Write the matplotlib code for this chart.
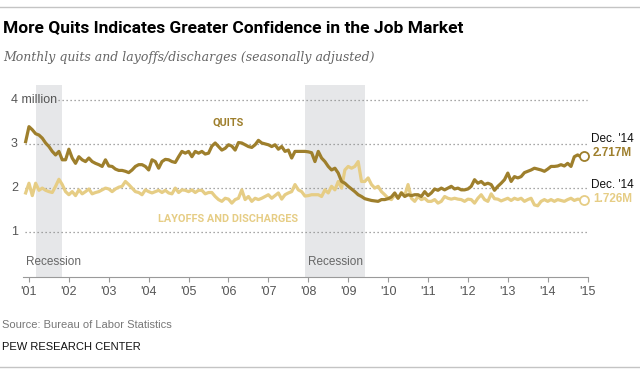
import numpy as np
import matplotlib
matplotlib.use("Agg")
import matplotlib.pyplot as plt
import matplotlib.transforms as mtransforms
from matplotlib.lines import Line2D

# monthly values, Dec 2000 .. Dec 2014, millions
quits = [3.05, 3.39, 3.32, 3.23, 3.20, 3.13, 3.02, 2.94, 2.83, 2.75,
         2.83, 2.64, 2.64, 2.88, 2.68, 2.56, 2.71, 2.64, 2.60, 2.68,
         2.60, 2.56, 2.53, 2.49, 2.64, 2.50, 2.49, 2.43, 2.40, 2.40,
         2.38, 2.35, 2.41, 2.49, 2.53, 2.53, 2.49, 2.41, 2.64, 2.60,
         2.45, 2.60, 2.65, 2.64, 2.60, 2.58, 2.71, 2.83, 2.79, 2.83,
         2.71, 2.83, 2.79, 2.83, 2.77, 2.79, 2.95, 3.02, 2.94, 2.86,
         2.90, 2.98, 2.95, 2.86, 3.03, 3.02, 2.98, 2.94, 2.92, 2.98,
         3.08, 3.02, 3.00, 2.98, 2.94, 2.98, 2.88, 2.94, 2.83, 2.86,
         2.68, 2.83, 2.83, 2.83, 2.83, 2.82, 2.80, 2.60, 2.83, 2.68,
         2.60, 2.49, 2.41, 2.45, 2.34, 2.15, 2.11, 2.04, 1.98, 1.92,
         1.85, 1.81, 1.76, 1.74, 1.72, 1.71, 1.70, 1.74, 1.74, 1.76,
         1.80, 1.89, 1.77, 1.89, 1.81, 1.85, 1.83, 1.85, 1.85, 1.81,
         1.92, 1.83, 1.89, 1.98, 1.95, 2.00, 1.96, 2.00, 2.04, 1.98,
         2.00, 1.96, 1.96, 1.98, 2.04, 2.19, 2.11, 2.15, 2.08, 2.11,
         2.08, 1.95, 2.04, 2.11, 2.19, 2.34, 2.15, 2.26, 2.23, 2.26,
         2.35, 2.38, 2.41, 2.45, 2.43, 2.41, 2.38, 2.43, 2.49, 2.49,
         2.50, 2.53, 2.50, 2.56, 2.49, 2.71, 2.75, 2.71, 2.717]

layoffs = [1.89, 2.11, 1.83, 2.11, 1.95, 2.00, 1.95, 1.92, 1.90, 2.04,
           2.20, 2.08, 1.92, 1.85, 1.92, 1.83, 1.96, 1.87, 1.92, 1.98,
           1.87, 1.90, 1.92, 1.96, 2.00, 1.98, 1.92, 1.98, 2.02, 2.04,
           2.15, 2.08, 2.00, 1.92, 1.90, 1.85, 1.96, 1.92, 1.89, 1.92,
           1.95, 1.90, 1.95, 1.89, 1.87, 2.00, 1.90, 1.96, 1.95, 1.92,
           1.96, 1.90, 1.95, 1.95, 1.87, 1.90, 1.90, 1.81, 1.74, 1.70,
           1.77, 1.75, 1.66, 1.74, 1.77, 1.96, 1.74, 1.81, 1.70, 1.77,
           1.74, 1.77, 1.81, 1.85, 1.77, 1.83, 1.89, 1.75, 1.85, 1.89,
           1.92, 2.08, 1.96, 1.92, 1.82, 1.83, 1.85, 1.85, 1.85, 1.81,
           1.96, 1.89, 2.04, 1.96, 2.15, 2.00, 2.41, 2.49, 2.45, 2.49,
           2.60, 2.15, 2.15, 2.23, 2.08, 2.00, 2.04, 1.92, 1.85, 1.77,
           1.74, 1.85, 1.77, 1.90, 1.83, 2.08, 1.77, 1.70, 1.81, 1.74,
           1.77, 1.70, 1.70, 1.74, 1.66, 1.70, 1.81, 1.77, 1.75, 1.77,
           1.75, 1.74, 1.70, 1.75, 1.74, 1.66, 1.77, 1.85, 1.74, 1.70,
           1.87, 1.76, 1.75, 1.71, 1.74, 1.77, 1.72, 1.77, 1.74, 1.77,
           1.70, 1.74, 1.77, 1.62, 1.60, 1.70, 1.74, 1.70, 1.74, 1.70,
           1.74, 1.72, 1.70, 1.74, 1.77, 1.72, 1.75, 1.74, 1.726]

years = list(range(2001, 2016))
year_labels = ["'%02d" % (y % 100) for y in years]
recessions = [(2001 + 2/12, 2001 + 10/12), (2007 + 11/12, 2009 + 5/12)]
grid_vals = [1, 2, 3, 4]
grid_labels = ["1", "2", "3", "4 million"]

# decimal year of each month, first point is Dec 2000
t = 2000 + 11/12 + np.arange(len(quits)) / 12

dark = "#9e7f2c"
light = "#e6cd85"
W, H = 640, 373

fig = plt.figure(figsize=(6.4, 3.73), dpi=100)
ax = fig.add_axes([21/W, (H - 276.5)/H, 570.6/W, 191.4/H])
ax.set_xlim(2000.8, 2015.1)
ax.set_ylim(0, 4.33)

for a, b in recessions:
    ax.axvspan(a, b, color="#e6e7e9", lw=0, zorder=0)

for v in grid_vals:
    x0 = 2001.73 if v == 4 else 2000.9
    ax.hlines(v, x0, 2014.98, colors="#8a8a8a", linestyles=(0, (1, 2.2)), lw=0.9, zorder=1)

ylab_tr = mtransforms.blended_transform_factory(fig.transFigure, ax.transData)
for v, s in zip(grid_vals, grid_labels):
    ax.text(11/W, v, s, transform=ylab_tr, ha="left", va="center",
            fontsize=9, color="#555555", family="Liberation Sans")

ax.plot(t, layoffs, color=light, lw=2.3, zorder=3, solid_joinstyle="round")
ax.plot(t, quits, color=dark, lw=2.3, zorder=4, solid_joinstyle="round")
ax.plot(t[-1:], quits[-1:], "o", ms=6.5, mfc="white", mec=dark, mew=1.3, zorder=5)
ax.plot(t[-1:], layoffs[-1:], "o", ms=6.5, mfc="white", mec=light, mew=1.3, zorder=5)

for s in ["top", "right", "left"]:
    ax.spines[s].set_visible(False)
ax.spines["bottom"].set_color("#9a9a9a")
ax.spines["bottom"].set_bounds(2000.85, 2015.0)
ax.set_yticks([])
ax.set_xticks(years)
ax.set_xticklabels(year_labels, fontsize=9, color="#555555", family="Liberation Sans")
ax.tick_params(axis="x", length=3.5, color="#9a9a9a", pad=3)

ax.text(2006.0, 3.48, "QUITS", color=dark, fontsize=7.8, weight="bold",
        family="Roboto", ha="center", va="center")
ax.text(2006.0, 1.29, "LAYOFFS AND DISCHARGES", color=light, fontsize=7.8, weight="bold",
        family="Roboto", ha="center", va="center")
ax.text(2000.93, 0.33, "Recession", fontsize=8.5, color="#666666",
        family="Liberation Sans", va="center")
ax.text(2008.0, 0.33, "Recession", fontsize=8.5, color="#666666",
        family="Liberation Sans", va="center")

def ftext(x, y, s, **kw):
    fig.text(x/W, 1 - y/H, s, va="center", ha="left", **kw)

ftext(591, 139.5, "Dec. '14", fontsize=8.5, color="#111111", family="Liberation Sans")
ftext(593, 153, "%.3fM" % quits[-1], fontsize=8.5, color=dark, weight="bold", family="Liberation Sans")
ftext(591, 185, "Dec. '14", fontsize=8.5, color="#111111", family="Liberation Sans")
ftext(593, 199.5, "%.3fM" % layoffs[-1], fontsize=8.5, color=light, weight="bold", family="Liberation Sans")

ftext(3, 28, "More Quits Indicates Greater Confidence in the Job Market",
      fontsize=12.5, weight="bold", color="black", family="Roboto")
ftext(3, 57, "Monthly quits and layoffs/discharges (seasonally adjusted)",
      fontsize=9, style="italic", color="#666666", family="DejaVu Serif")
ftext(2, 325, "Source: Bureau of Labor Statistics", fontsize=8, color="#777777", family="Liberation Sans")
ftext(2, 347, "PEW RESEARCH CENTER", fontsize=8, color="#111111", family="Liberation Sans")

for yy in [7, 367]:
    fig.add_artist(Line2D([0, 1], [1 - yy/H, 1 - yy/H], transform=fig.transFigure,
                          color="#c4c4c4", lw=1))

fig.savefig("out.png", dpi=100)
